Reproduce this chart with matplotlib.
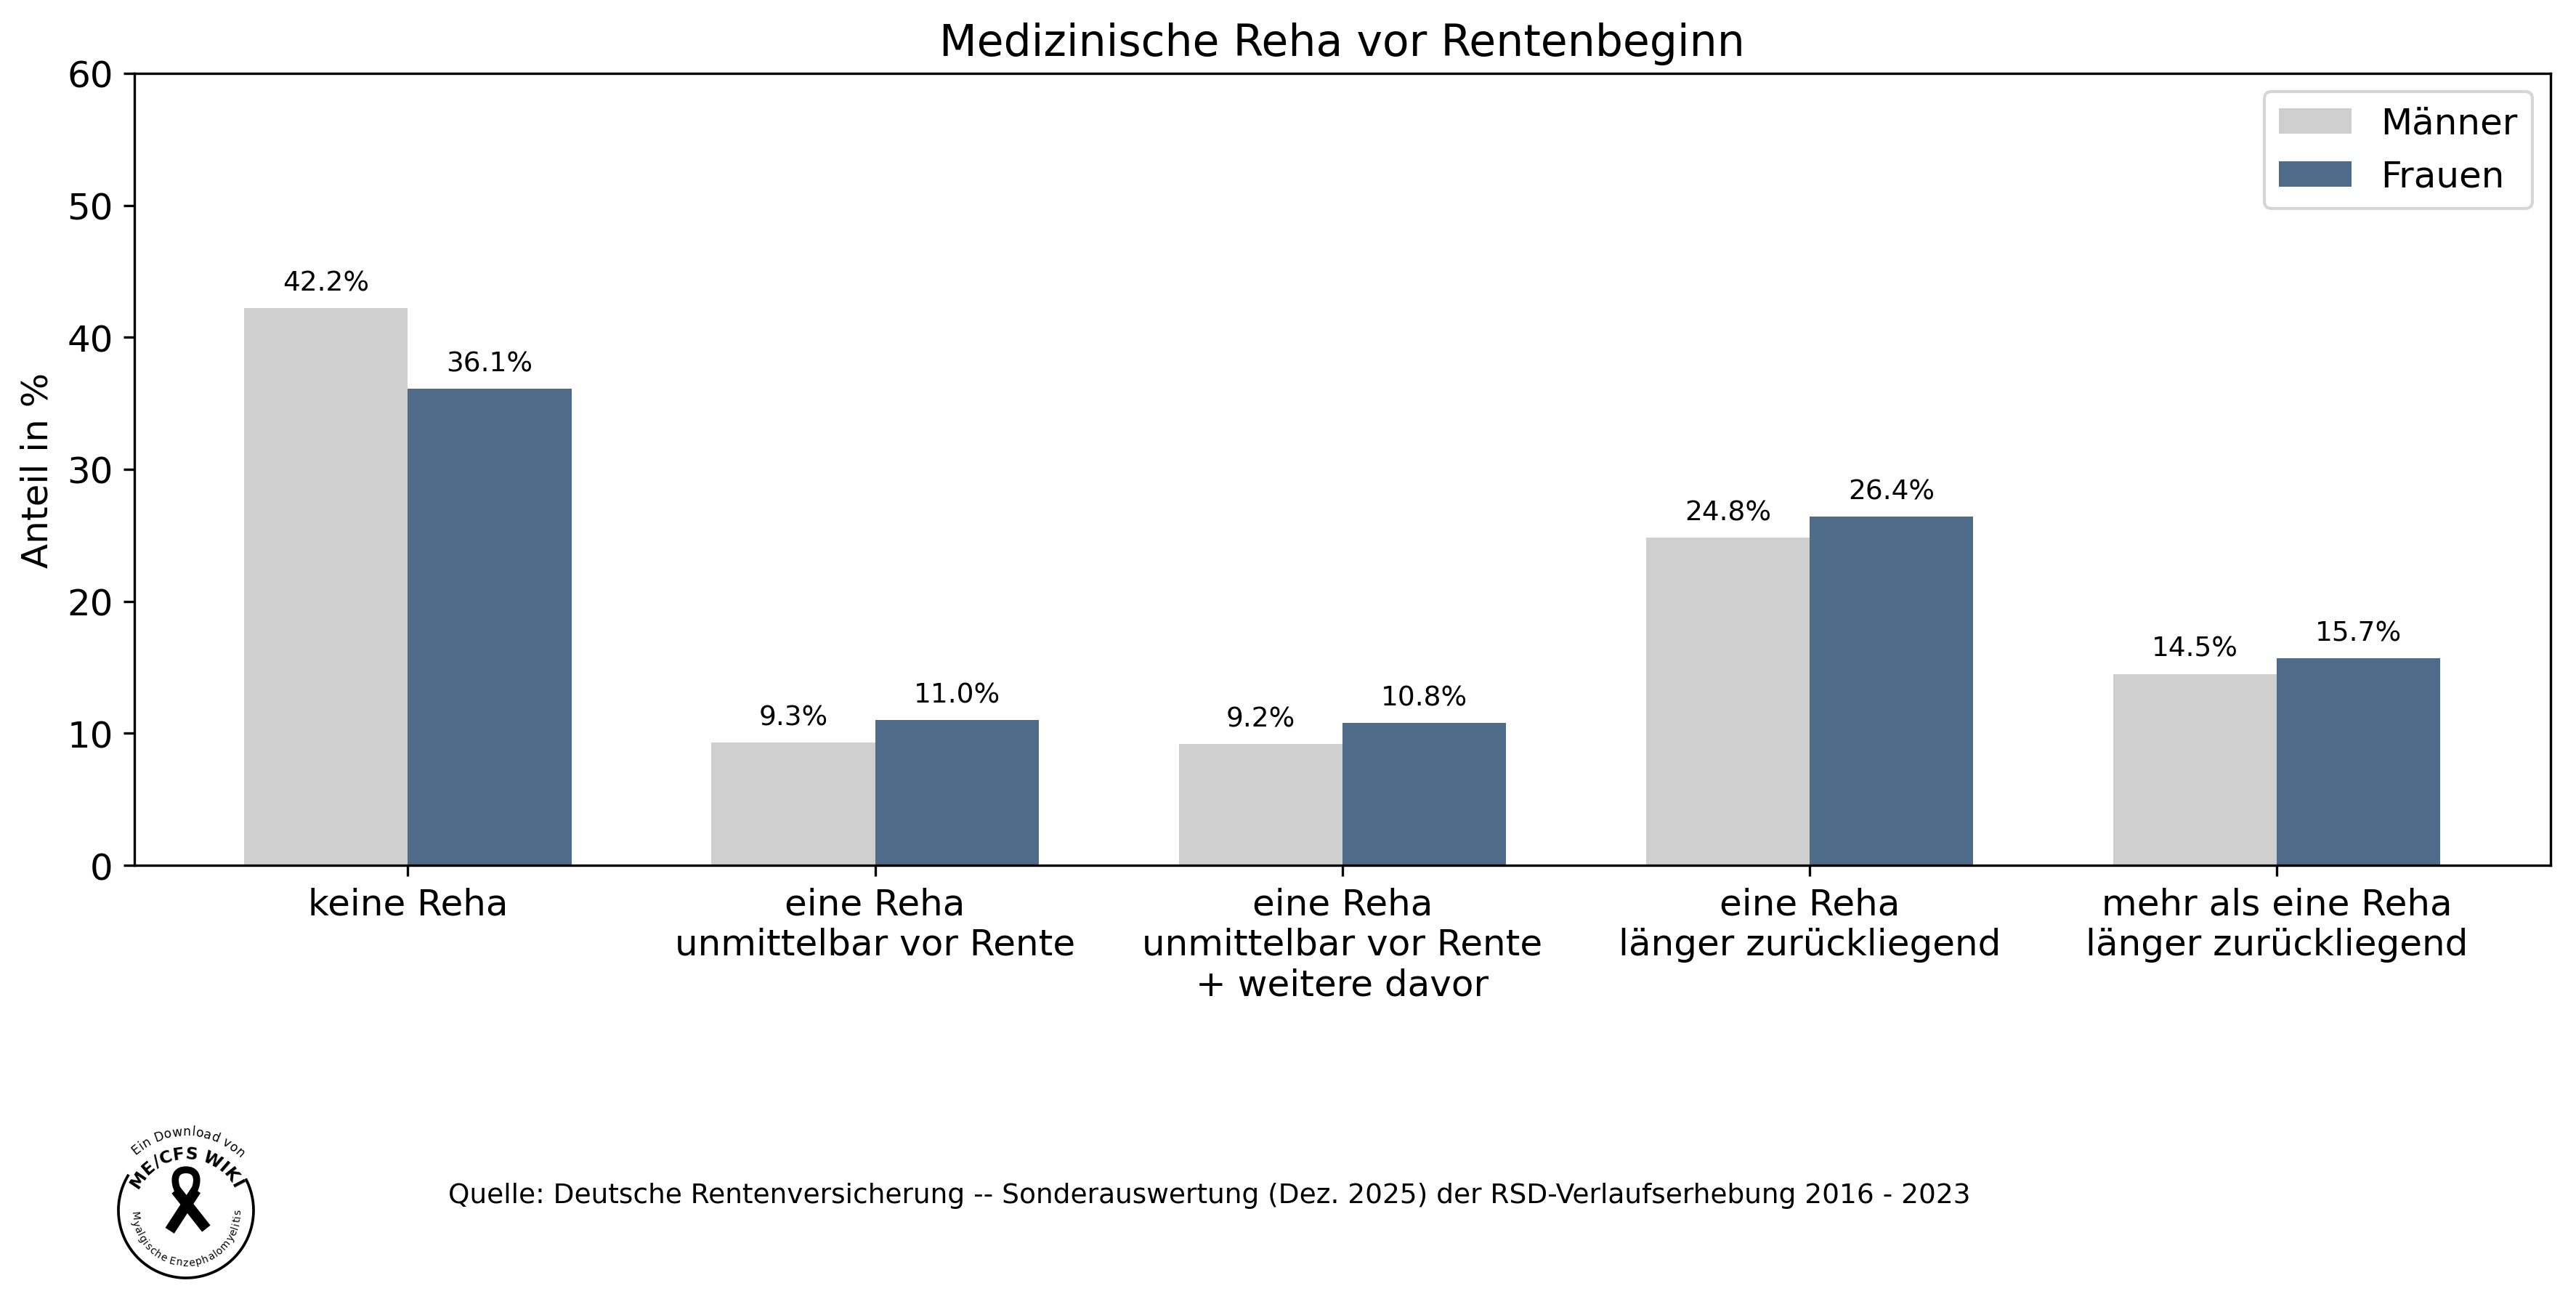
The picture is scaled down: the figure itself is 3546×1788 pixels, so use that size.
import numpy as np
import matplotlib
matplotlib.use("Agg")
import matplotlib.pyplot as plt
from matplotlib.patches import Arc, PathPatch
from matplotlib.path import Path
from matplotlib.font_manager import FontProperties
from matplotlib.textpath import text_to_path

# data
kategorien = ["keine Reha",
              "eine Reha\nunmittelbar vor Rente",
              "eine Reha\nunmittelbar vor Rente\n+ weitere davor",
              "eine Reha\nlänger zurückliegend",
              "mehr als eine Reha\nlänger zurückliegend"]
maenner = [42.2, 9.3, 9.2, 24.8, 14.5]
frauen = [36.1, 11.0, 10.8, 26.4, 15.7]

col_m = "#cfcfcf"
col_f = "#4e6b89"

fig = plt.figure(figsize=(3546 / 300, 1789 / 300), dpi=300)
ax = fig.add_axes([0.0522, 0.3337, 0.9378, 0.6093])

x = np.arange(len(kategorien))
w = 0.35
b1 = ax.bar(x - w / 2, maenner, w, color=col_m, label="Männer")
b2 = ax.bar(x + w / 2, frauen, w, color=col_f, label="Frauen")
for bars, vals in [(b1, maenner), (b2, frauen)]:
    for r, v in zip(bars, vals):
        ax.annotate(f"{v:.1f}%", (r.get_x() + r.get_width() / 2, v),
                    xytext=(0, 4), textcoords="offset points",
                    ha="center", va="bottom", fontsize=9)

ax.set_ylim(0, 60)
ax.set_xticks(x)
ax.set_xticklabels(kategorien, fontsize=12)
ax.tick_params(axis="y", labelsize=12)
ax.set_ylabel("Anteil in %", fontsize=12)
ax.set_title("Medizinische Reha vor Rentenbeginn", fontsize=14.4)
ax.legend(loc="upper right", fontsize=12)

fig.text(0.174, 0.080, "Quelle: Deutsche Rentenversicherung -- Sonderauswertung (Dez. 2025) "
         "der RSD-Verlaufserhebung 2016 - 2023", fontsize=9, va="center", ha="left")

# logo (ME/CFS Wiki), circle radius = 1 unit = 93 px
lax = fig.add_axes([126 / 3546, 1 - 1797 / 1789, 260 / 3546, 260 / 1789])
lim = 130 / 93
lax.set_xlim(-lim, lim)
lax.set_ylim(-lim, lim)
lax.set_aspect("equal")
lax.axis("off")
lax.add_patch(Arc((0, 0), 2, 2, theta1=148, theta2=28 + 360, color="black", lw=0.9))

PT_PER_UNIT = 93 / 300 * 72


def curved(txt, r, a_start, a_end, weight="normal", top=True):
    # text along an arc between a_start and a_end (deg), size chosen to fit
    fp = FontProperties(family="DejaVu Sans", weight=weight, size=100)
    advs = []
    for ch in txt:
        if ch == " ":
            advs.append(0.30)
        else:
            wd, _, _ = text_to_path.get_text_width_height_descent(ch, fp, ismath=False)
            advs.append(wd / 100 + 0.05)
    arc_pt = abs(np.radians(a_end - a_start)) * r * PT_PER_UNIT
    size = arc_pt / sum(advs)
    sgn = -1 if top else 1
    ang = np.radians(a_start)
    for ch, adv in zip(txt, advs):
        da = adv * size / PT_PER_UNIT / r
        t = ang + sgn * da / 2
        ang += sgn * da
        if ch == " ":
            continue
        rot = np.degrees(t) - 90 if top else np.degrees(t) + 90
        lax.text(r * np.cos(t), r * np.sin(t), ch, rotation=rot, fontsize=size,
                 fontweight=weight, ha="center", va="center", rotation_mode="anchor")


curved("Ein Download von", 1.17, 132, 44)
curved("ME/CFS WIKI", 0.84, 155, 24, weight="bold")
curved("Myalgische Enzephalomyelitis", 0.77, 180, 362, top=False)

# ribbon
loop = Path([(0.0, 0.12), (-0.17, 0.28), (-0.25, 0.60), (0.0, 0.60),
             (0.25, 0.60), (0.17, 0.28), (0.0, 0.12)],
            [Path.MOVETO, Path.CURVE4, Path.CURVE4, Path.CURVE4,
             Path.CURVE4, Path.CURVE4, Path.CURVE4])
lax.add_patch(PathPatch(loop, fill=False, lw=2.3, color="black"))
lax.plot([0.15, -0.24], [0.30, -0.30], color="black", lw=3.5, solid_capstyle="butt")
lax.plot([-0.15, 0.30], [0.30, -0.27], color="black", lw=3.5, solid_capstyle="butt")

fig.savefig("out.png", dpi=300)
